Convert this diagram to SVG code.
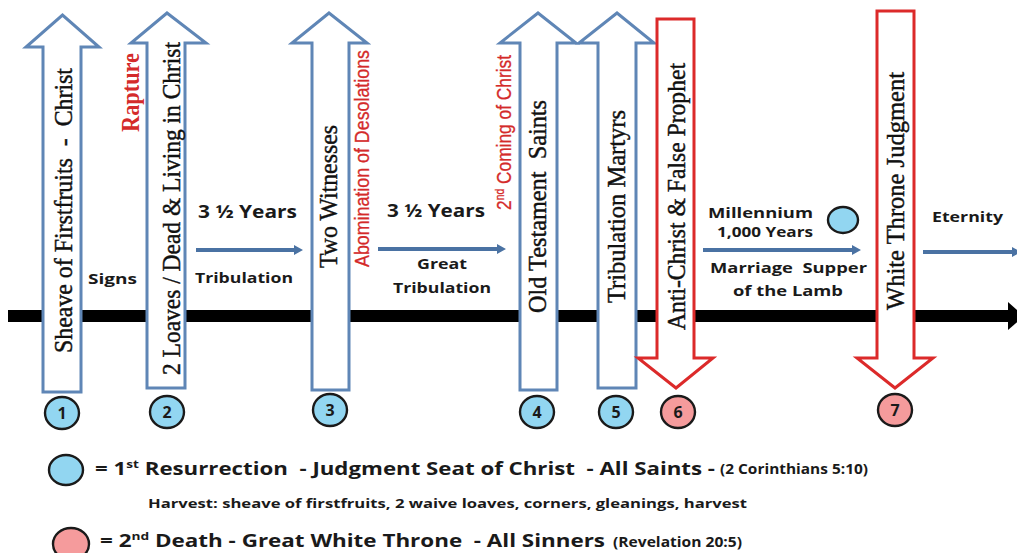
<svg xmlns="http://www.w3.org/2000/svg" width="1017" height="553" viewBox="0 0 1017 553">
<style>
.up{fill:#fff;stroke:#5f86b6;stroke-width:3;stroke-linejoin:miter}
.down{fill:#fff;stroke:#dc2a2a;stroke-width:3;stroke-linejoin:miter}
.vt{font-family:"Liberation Serif","Times New Roman",serif;font-size:26px;fill:#111;stroke:#111;stroke-width:0.45;white-space:pre}
.vr{font-family:"Liberation Serif","Times New Roman",serif;font-size:25px;font-weight:bold;fill:#d42a2a}
.vs{font-family:"Liberation Sans",Arial,sans-serif;font-size:20px;fill:#d42a2a;stroke:#d42a2a;stroke-width:0.3}
.lb{font-family:"Open Sans","Liberation Sans",sans-serif;font-weight:bold;fill:#1a1a1a;white-space:pre}
.cb{fill:#92d6f1;stroke:#1a1a1a;stroke-width:2.4}
.cr{fill:#f59b9c;stroke:#1a1a1a;stroke-width:2.4}
.num{font-family:"Open Sans","Liberation Sans",sans-serif;font-weight:bold;font-size:16px;fill:#1a1a1a;text-anchor:middle}
.ha{fill:#4a72a3}
</style>
<rect width="1017" height="553" fill="#fff"/>
<g id="timeline">
<rect x="8" y="310" width="1002" height="12" fill="#000"/>
<polygon points="1008,302 1024,316 1008,330" fill="#000"/>
</g>
<g id="connectors">
<polygon class="ha" points="196,248 294,248 294,245 303,250 294,255 294,252 196,252"/>
<polygon class="ha" points="378,247 497,247 497,244 506,249 497,254 497,251 378,251"/>
<polygon class="ha" points="703,248 852,248 852,245 861,250 852,255 852,252 703,252"/>
<polygon class="ha" points="923,250 1012,250 1012,247 1021,252 1012,257 1012,254 923,254"/>
</g>
<g id="node1">
<polygon class="up" points="43,392 43,47 26,47 62.5,15 99,47 81,47 81,392"/>
<text class="vt" xml:space="preserve" transform="translate(72,353) rotate(-90)" textLength="285" lengthAdjust="spacingAndGlyphs">Sheave of Firstfruits  -  Christ</text>
<ellipse class="cb" cx="62" cy="413" rx="17" ry="16"/>
<text class="num" x="62" y="419">1</text>
</g>
<g id="node2">
<polygon class="up" points="147,388 147,43 131,43 167,13 206,43 185,43 185,388"/>
<text class="vt" xml:space="preserve" transform="translate(180,375) rotate(-90)" textLength="333" lengthAdjust="spacingAndGlyphs">2 Loaves / Dead &amp; Living in Christ</text>
<text class="vr" transform="translate(139,132) rotate(-90)" textLength="79" lengthAdjust="spacingAndGlyphs">Rapture</text>
<ellipse class="cb" cx="167" cy="412" rx="17" ry="16"/>
<text class="num" x="167" y="418">2</text>
</g>
<g id="node3">
<polygon class="up" points="312,390 312,43 292,43 329,13 367,43 349,43 349,390"/>
<text class="vt" transform="translate(337,268) rotate(-90)" textLength="143" lengthAdjust="spacingAndGlyphs">Two Witnesses</text>
<text class="vs" transform="translate(369,267) rotate(-90)" textLength="217" lengthAdjust="spacingAndGlyphs">Abomination of Desolations</text>
<ellipse class="cb" cx="330" cy="410" rx="17" ry="16"/>
<text class="num" x="330" y="416">3</text>
</g>
<g id="node4">
<polygon class="up" points="520,390 520,43 500,43 538,13 576,43 557,43 557,390"/>
<text class="vt" xml:space="preserve" transform="translate(546,313) rotate(-90)" textLength="213" lengthAdjust="spacingAndGlyphs">Old Testament  Saints</text>
<text class="vs" transform="translate(511,210) rotate(-90)" textLength="155" lengthAdjust="spacingAndGlyphs">2<tspan font-size="12" dy="-7">nd</tspan><tspan dy="7"> Coming of Christ</tspan></text>
<ellipse class="cb" cx="537" cy="412" rx="17" ry="16"/>
<text class="num" x="537" y="418">4</text>
</g>
<g id="node5">
<polygon class="up" points="598,388 598,43 579,43 617,13 654,43 636,43 636,388"/>
<text class="vt" transform="translate(625,303) rotate(-90)" textLength="193" lengthAdjust="spacingAndGlyphs">Tribulation Martyrs</text>
<ellipse class="cb" cx="616" cy="412" rx="17" ry="16"/>
<text class="num" x="616" y="418">5</text>
</g>
<g id="node6">
<polygon class="down" points="657,19 694,19 694,358 713,358 676,388 638,358 657,358"/>
<text class="vt" transform="translate(685,330) rotate(-90)" textLength="267" lengthAdjust="spacingAndGlyphs">Anti-Christ &amp; False Prophet</text>
<ellipse class="cr" cx="678" cy="412" rx="17" ry="16"/>
<text class="num" x="678" y="418">6</text>
</g>
<g id="node7">
<polygon class="down" points="877,11 914,11 914,358 933,358 895,388 857,358 877,358"/>
<text class="vt" transform="translate(904,310) rotate(-90)" textLength="238" lengthAdjust="spacingAndGlyphs">White Throne Judgment</text>
<ellipse class="cr" cx="895" cy="410" rx="17" ry="16"/>
<text class="num" x="895" y="416">7</text>
</g>
<g id="labels">
<text class="lb" font-size="15" x="88" y="284" textLength="49" lengthAdjust="spacingAndGlyphs">Signs</text>
<text class="lb" font-size="17" x="198" y="218" textLength="99" lengthAdjust="spacingAndGlyphs">3 ½ Years</text>
<text class="lb" font-size="15" x="195" y="283" textLength="98" lengthAdjust="spacingAndGlyphs">Tribulation</text>
<text class="lb" font-size="17" x="387" y="217" textLength="98" lengthAdjust="spacingAndGlyphs">3 ½ Years</text>
<text class="lb" font-size="15" x="417" y="269" textLength="50" lengthAdjust="spacingAndGlyphs">Great</text>
<text class="lb" font-size="15" x="393" y="293" textLength="98" lengthAdjust="spacingAndGlyphs">Tribulation</text>
<text class="lb" font-size="15" x="708" y="218" textLength="105" lengthAdjust="spacingAndGlyphs">Millennium</text>
<text class="lb" font-size="13.5" x="717" y="237" textLength="96" lengthAdjust="spacingAndGlyphs">1,000 Years</text>
<ellipse class="cb" cx="843" cy="220" rx="15" ry="13"/>
<text class="lb" xml:space="preserve" font-size="15" x="710" y="273" textLength="157" lengthAdjust="spacingAndGlyphs">Marriage  Supper</text>
<text class="lb" font-size="15" x="733" y="296" textLength="110" lengthAdjust="spacingAndGlyphs">of the Lamb</text>
<text class="lb" font-size="15" x="932" y="222" textLength="71" lengthAdjust="spacingAndGlyphs">Eternity</text>
</g>
<g id="legend">
<ellipse class="cb" cx="66" cy="470" rx="17" ry="15"/>
<text class="lb" xml:space="preserve" font-size="18" x="95" y="475" textLength="620" lengthAdjust="spacingAndGlyphs">= 1<tspan font-size="11" dy="-7">st</tspan><tspan dy="7"> Resurrection  - Judgment Seat of Christ  - All Saints -</tspan></text>
<text class="lb" font-size="14" x="720" y="474" textLength="148" lengthAdjust="spacingAndGlyphs">(2 Corinthians 5:10)</text>
<text class="lb" font-size="13" x="148" y="508" textLength="599" lengthAdjust="spacingAndGlyphs">Harvest: sheave of firstfruits, 2 waive loaves, corners, gleanings, harvest</text>
<ellipse class="cr" cx="71" cy="544" rx="18" ry="16"/>
<text class="lb" xml:space="preserve" font-size="18" x="100" y="547" textLength="505" lengthAdjust="spacingAndGlyphs">= 2<tspan font-size="11" dy="-7">nd</tspan><tspan dy="7"> Death - Great White Throne  - All Sinners</tspan></text>
<text class="lb" font-size="14" x="613" y="547" textLength="129" lengthAdjust="spacingAndGlyphs">(Revelation 20:5)</text>
</g>
</svg>
